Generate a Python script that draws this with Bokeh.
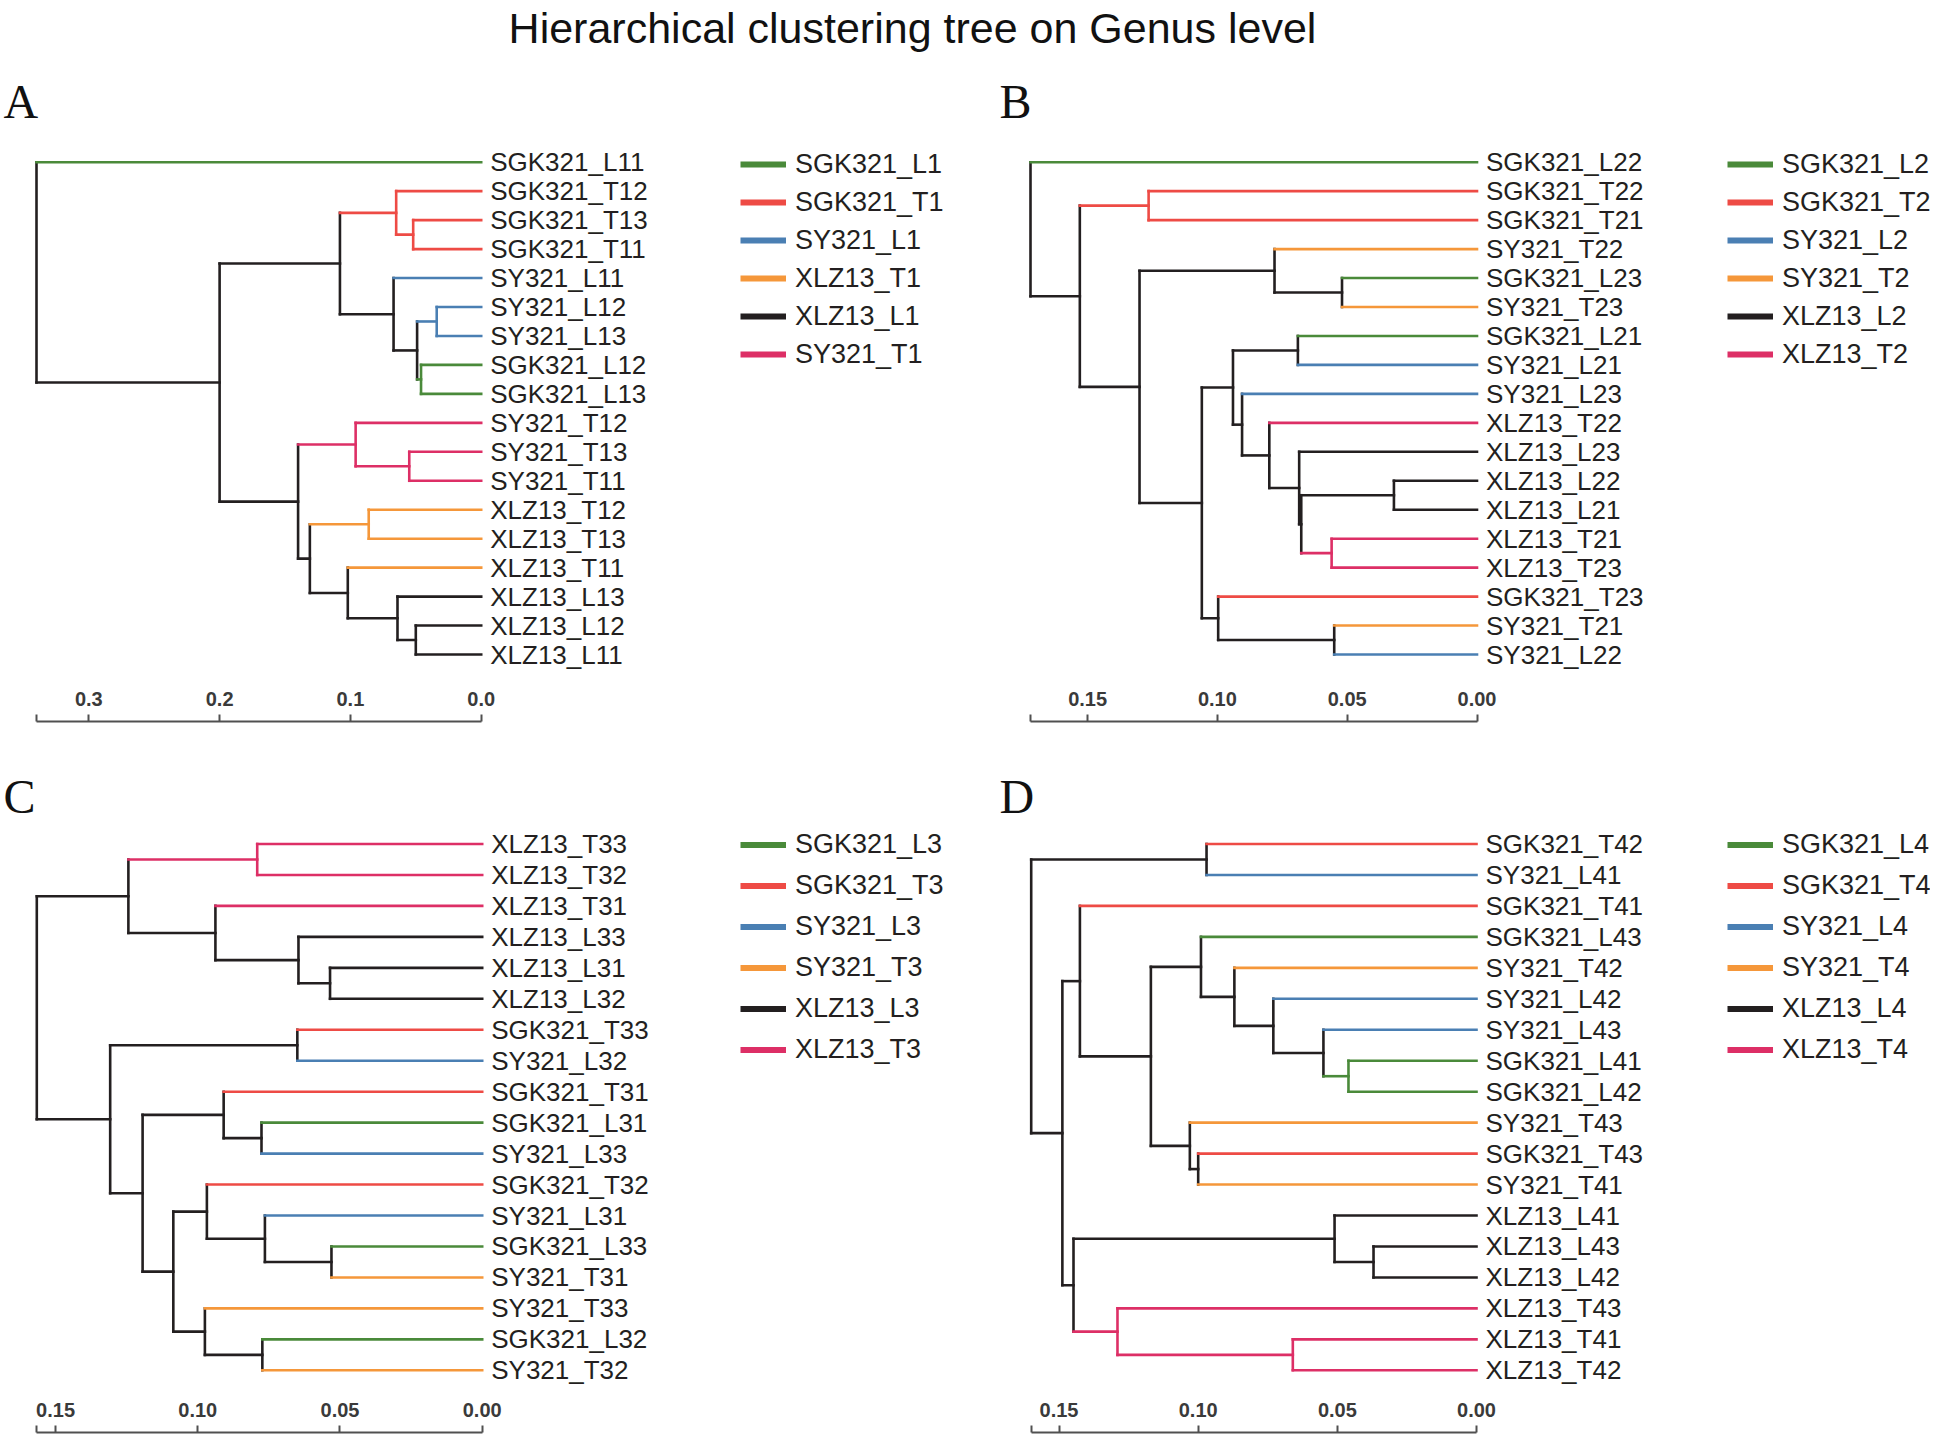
from bokeh.plotting import figure
from bokeh.models import (ColumnDataSource, Range1d, LinearAxis, FixedTicker,
                          NumeralTickFormatter, Legend, LegendItem)
from bokeh.layouts import column, row
from bokeh.core.properties import value
from bokeh.embed import file_html
from bokeh.resources import INLINE

TITLE = "Hierarchical clustering tree on Genus level"

GREEN, RED, BLUE, ORANGE, BLACK, PINK = "#4a8a3a", "#ee4b45", "#4a7fb3", "#f5973a", "#231f20", "#dd2f66"

# ---------------- Panel A ----------------
labels_A = ["SGK321_L11", "SGK321_T12", "SGK321_T13", "SGK321_T11", "SY321_L11", "SY321_L12",
            "SY321_L13", "SGK321_L12", "SGK321_L13", "SY321_T12", "SY321_T13", "SY321_T11",
            "XLZ13_T12", "XLZ13_T13", "XLZ13_T11", "XLZ13_L13", "XLZ13_L12", "XLZ13_L11"]
# R-style merge matrix: negative = leaf (1-based, display order), positive = earlier merge
merge_A = [(-6, -7), (-8, -9), (1, 2), (-17, -18), (-3, -4), (-11, -12), (-16, 4), (-2, 5),
           (-5, 3), (-13, -14), (-10, 6), (-15, 7), (8, 9), (10, 12), (11, 14), (13, 15), (-1, 16)]
height_A = [0.034, 0.046, 0.049, 0.050, 0.052, 0.055, 0.064, 0.065, 0.067, 0.086, 0.096,
            0.102, 0.108, 0.131, 0.140, 0.200, 0.340]
groups_A = ["SGK321_L1", "SGK321_T1", "SY321_L1", "XLZ13_T1", "XLZ13_L1", "SY321_T1"]
colors_A = [GREEN, RED, BLUE, ORANGE, BLACK, PINK]
ticks_A = [0.3, 0.2, 0.1, 0.0]

# ---------------- Panel B ----------------
labels_B = ["SGK321_L22", "SGK321_T22", "SGK321_T21", "SY321_T22", "SGK321_L23", "SY321_T23",
            "SGK321_L21", "SY321_L21", "SY321_L23", "XLZ13_T22", "XLZ13_L23", "XLZ13_L22",
            "XLZ13_L21", "XLZ13_T21", "XLZ13_T23", "SGK321_T23", "SY321_T21", "SY321_L22"]
merge_B = [(-12, -13), (-5, -6), (-17, -18), (-14, -15), (1, 4), (-11, 5), (-7, -8), (-4, 2),
           (-10, 6), (-9, 9), (7, 10), (-16, 3), (11, 12), (-2, -3), (8, 13), (14, 15), (-1, 16)]
height_B = [0.032, 0.052, 0.055, 0.056, 0.0677, 0.0685, 0.069, 0.078, 0.080, 0.0905, 0.094,
            0.0997, 0.106, 0.1265, 0.130, 0.153, 0.172]
groups_B = ["SGK321_L2", "SGK321_T2", "SY321_L2", "SY321_T2", "XLZ13_L2", "XLZ13_T2"]
colors_B = [GREEN, RED, BLUE, ORANGE, BLACK, PINK]
ticks_B = [0.15, 0.10, 0.05, 0.00]

# ---------------- Panel C ----------------
labels_C = ["XLZ13_T33", "XLZ13_T32", "XLZ13_T31", "XLZ13_L33", "XLZ13_L31", "XLZ13_L32",
            "SGK321_T33", "SY321_L32", "SGK321_T31", "SGK321_L31", "SY321_L33", "SGK321_T32",
            "SY321_L31", "SGK321_L33", "SY321_T31", "SY321_T33", "SGK321_L32", "SY321_T32"]
merge_C = [(-14, -15), (-5, -6), (-4, 2), (-7, -8), (-13, 1), (-17, -18), (-10, -11), (-1, -2),
           (-9, 7), (-3, 3), (-12, 5), (-16, 6), (11, 12), (9, 13), (8, 10), (4, 14), (15, 16)]
height_C = [0.053, 0.0535, 0.0646, 0.065, 0.0764, 0.0773, 0.0776, 0.0791, 0.0909, 0.0938,
            0.0968, 0.0975, 0.1086, 0.1194, 0.1244, 0.1308, 0.1566]
groups_C = ["SGK321_L3", "SGK321_T3", "SY321_L3", "SY321_T3", "XLZ13_L3", "XLZ13_T3"]
colors_C = [GREEN, RED, BLUE, ORANGE, BLACK, PINK]
ticks_C = [0.15, 0.10, 0.05, 0.00]

# ---------------- Panel D ----------------
labels_D = ["SGK321_T42", "SY321_L41", "SGK321_T41", "SGK321_L43", "SY321_T42", "SY321_L42",
            "SY321_L43", "SGK321_L41", "SGK321_L42", "SY321_T43", "SGK321_T43", "SY321_T41",
            "XLZ13_L41", "XLZ13_L43", "XLZ13_L42", "XLZ13_T43", "XLZ13_T41", "XLZ13_T42"]
merge_D = [(-14, -15), (-8, -9), (-13, 1), (-7, 2), (-17, -18), (-6, 4), (-5, 6), (-1, -2),
           (-4, 7), (-11, -12), (-10, 10), (9, 11), (-16, 5), (-3, 12), (3, 13), (14, 15), (8, 16)]
height_D = [0.037, 0.046, 0.051, 0.055, 0.066, 0.073, 0.087, 0.097, 0.099, 0.100, 0.103,
            0.117, 0.129, 0.1425, 0.1448, 0.1488, 0.160]
groups_D = ["SGK321_L4", "SGK321_T4", "SY321_L4", "SY321_T4", "XLZ13_L4", "XLZ13_T4"]
colors_D = [GREEN, RED, BLUE, ORANGE, BLACK, PINK]
ticks_D = [0.15, 0.10, 0.05, 0.00]

FONT = "Liberation Sans"
NAN = float("nan")


def dendro_segments(labels, merge, height, gcolor):
    nodes = []  # (y, h, color, groupset)

    def info(ref):
        if ref < 0:
            i = -ref - 1
            g = labels[i][:-1]
            return float(i), 0.0, gcolor.get(g, BLACK), {g}
        return nodes[ref - 1]

    segs = {"x0": [], "y0": [], "x1": [], "y1": [], "c": []}

    def add(x0, y0, x1, y1, c):
        segs["x0"].append(x0); segs["y0"].append(y0)
        segs["x1"].append(x1); segs["y1"].append(y1); segs["c"].append(c)

    for (a, b), h in zip(merge, height):
        ya, ha, ca, ga = info(a)
        yb, hb, cb, gb = info(b)
        g = ga | gb
        col = gcolor.get(next(iter(g)), BLACK) if len(g) == 1 else BLACK
        add(h, ya, ha, ya, ca)
        add(h, yb, hb, yb, cb)
        add(h, ya, h, yb, col)
        nodes.append(((ya + yb) / 2.0, h, col, g))
    order = sorted(range(len(segs["c"])), key=lambda k: segs["c"][k] != BLACK)
    return {k: [v[i] for i in order] for k, v in segs.items()}


def panel(letter, labels, merge, height, groups, colors, ticks, fmt,
          fig_w, fig_h, root_px, zero_px, bottom_border, leaf_top_px, leaf_pitch,
          letter_x_px, letter_mid_px, legend_x_px, legend_top_px, legend_pitch):
    root_h = max(height)
    scale = (zero_px - root_px) / root_h           # px per distance unit
    x_left = root_h + root_px / scale
    x_right = -(fig_w - zero_px) / scale
    frame_h = fig_h - bottom_border
    y_top = -leaf_top_px / leaf_pitch
    y_bot = (frame_h - leaf_top_px) / leaf_pitch

    p = figure(width=fig_w, height=fig_h, x_range=Range1d(x_left, x_right),
               y_range=Range1d(y_bot, y_top), x_axis_type=None, y_axis_type=None,
               toolbar_location=None, output_backend="svg",
               min_border_left=0, min_border_right=0, min_border_top=0,
               min_border_bottom=bottom_border, outline_line_color=None,
               background_fill_color="white", border_fill_color="white")

    gcolor = dict(zip(groups, colors))
    segs = dendro_segments(labels, merge, height, gcolor)
    p.segment(x0="x0", y0="y0", x1="x1", y1="y1", color="c", line_width=2.6,
              line_cap="square", source=ColumnDataSource(segs))

    src = ColumnDataSource(dict(x=[0.0] * len(labels), y=list(range(len(labels))), t=labels))
    p.text(x="x", y="y", text="t", source=src, x_offset=9, text_baseline="middle",
           text_align="left", text_font=value(FONT), text_font_size="26px",
           text_color="#231f20")

    # panel letter
    p.text(x=[x_left - letter_x_px / scale], y=[y_top + letter_mid_px / leaf_pitch],
           text=[letter], text_font=value("Liberation Serif"), text_font_size="48px",
           text_baseline="middle", text_align="left", text_color="#111111")

    # axis along the bottom, labels above the line
    ax = LinearAxis(ticker=FixedTicker(ticks=ticks, minor_ticks=[root_h]),
                    formatter=NumeralTickFormatter(format=fmt), bounds=(0, root_h))
    ax.axis_line_width = 2
    ax.axis_line_color = "#505050"
    ax.major_tick_line_width = 2
    ax.major_tick_line_color = "#505050"
    ax.minor_tick_line_width = 2
    ax.minor_tick_line_color = "#505050"
    ax.major_tick_in = 7
    ax.major_tick_out = 0
    ax.minor_tick_in = 7
    ax.minor_tick_out = 0
    ax.major_label_standoff = -30
    ax.major_label_text_font = FONT
    ax.major_label_text_font_size = "20px"
    ax.major_label_text_font_style = "bold"
    ax.major_label_text_color = "#3a3a3a"
    p.add_layout(ax, "below")

    # legend (legend-only renderers, nothing drawn in the frame)
    items = []
    for g, c in zip(groups, colors):
        r = p.line(x=[NAN], y=[NAN], line_width=6, color=c)
        items.append(LegendItem(label=g, renderers=[r]))
    legend_h = legend_pitch * len(groups)
    leg = Legend(items=items, location=(legend_x_px, round(frame_h - legend_top_px - legend_h)),
                 glyph_width=46, glyph_height=round(legend_pitch), spacing=0, padding=0, margin=0,
                 label_standoff=9, label_text_font=FONT, label_text_font_size="27px",
                 label_text_color="#231f20", border_line_color=None, background_fill_alpha=0)
    p.add_layout(leg)
    return p


# title strip
TW, TH = 1930, 62
pt = figure(width=TW, height=TH, x_range=Range1d(0, 1), y_range=Range1d(0, 1),
            x_axis_type=None, y_axis_type=None, toolbar_location=None, output_backend="svg",
            min_border=0, outline_line_color=None)
pt.text(x=[912 / TW], y=[1 - 27 / TH], text=[TITLE], text_align="center",
        text_baseline="middle", text_font=value(FONT), text_font_size="43px",
        text_color="#111111")

TOP_H, BOT_H = 664, 708
pA = panel("A", labels_A, merge_A, height_A, groups_A, colors_A, ticks_A, "0.0",
           990, TOP_H, 36, 480.7, 5, 99.7, 28.96, 3, 39, 740, 84, 37.9)
pB = panel("B", labels_B, merge_B, height_B, groups_B, colors_B, ticks_B, "0.00",
           940, TOP_H, 40, 486.5, 5, 99.7, 28.96, 9, 39, 737, 84, 37.9)
pC = panel("C", labels_C, merge_C, height_C, groups_C, colors_C, ticks_C, "0.00",
           990, BOT_H, 36.3, 481.7, 2, 117.5, 30.96, 3, 69.5, 740, 100.7, 40.6)
pD = panel("D", labels_D, merge_D, height_D, groups_D, colors_D, ticks_D, "0.00",
           940, BOT_H, 40.7, 486, 2, 117.5, 30.96, 9, 69.5, 737, 100.7, 40.6)

layout = column(pt, row(pA, pB), row(pC, pD))
open("out.html", "w").write(file_html(layout, INLINE))
